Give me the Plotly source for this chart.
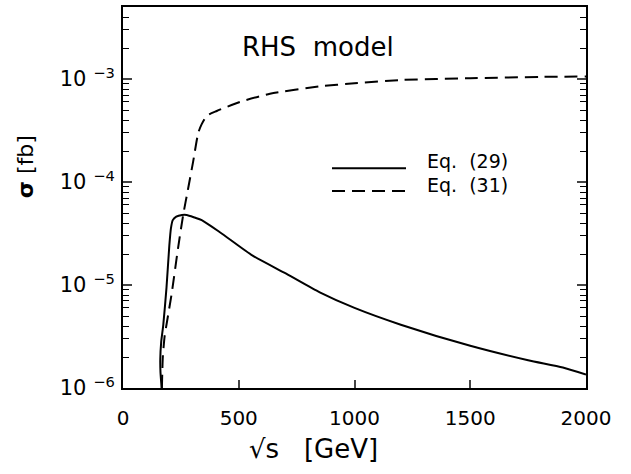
import plotly.graph_objects as go

# ---- data ----
sqrt_s_29 = [167, 162, 161, 165, 174, 188, 200, 207, 215, 230, 255, 275, 310, 340,
             420, 560, 705, 850, 1000, 1200, 1500, 1750, 1900, 2000]
sigma_29 = [1.0e-6, 1.41e-6, 1.9e-6, 2.8e-6, 4.1e-6, 9.5e-6, 2.4e-5, 3.55e-5, 4.27e-5,
            4.62e-5, 4.79e-5, 4.79e-5, 4.52e-5, 4.27e-5, 3.24e-5, 1.93e-5, 1.29e-5,
            8.5e-6, 6.0e-6, 4.12e-6, 2.57e-6, 1.86e-6, 1.58e-6, 1.35e-6]

sqrt_s_31 = [168, 172, 180, 190, 210, 238, 260, 282, 303, 325, 340, 362, 405, 505,
             635, 850, 1000, 1200, 1500, 1800, 2000]
sigma_31 = [1.0e-6, 2.0e-6, 3.2e-6, 4.4e-6, 8.2e-6, 2.3e-5, 4.8e-5, 8.8e-5, 1.58e-4,
            3.0e-4, 3.65e-4, 4.4e-4, 4.9e-4, 6.0e-4, 7.2e-4, 8.5e-4, 9.1e-4, 9.8e-4,
            1.02e-3, 1.05e-3, 1.06e-3]

x_ticks = [0, 500, 1000, 1500, 2000]
y_ticks = [1e-6, 1e-5, 1e-4, 1e-3]
y_ticktext = ["10 <sup>−6</sup>", "10 <sup>−5</sup>", "10 <sup>−4</sup>", "10 <sup>−3</sup>"]
y_minor = [m * 10.0 ** e for e in (-6, -5, -4, -3) for m in range(2, 10)]
legend_labels = ["Eq.  (29)", "Eq.  (31)"]
model_label = "RHS  model"

FONT = "DejaVu Sans"
W, H = 631, 474
L, R, T, B = 123, 45, 5, 86

fig = go.Figure()
fig.add_trace(go.Scatter(x=sqrt_s_29, y=sigma_29, mode="lines",
                         line=dict(color="black", width=2, shape="spline", smoothing=0.6),
                         showlegend=False))
fig.add_trace(go.Scatter(x=sqrt_s_31, y=sigma_31, mode="lines",
                         line=dict(color="black", width=2, dash="13px,7px",
                                   shape="spline", smoothing=0.6),
                         showlegend=False))

fig.update_layout(
    width=W, height=H,
    margin=dict(l=L, r=R, t=T, b=B, pad=0),
    paper_bgcolor="white", plot_bgcolor="white",
    font=dict(family=FONT, color="black", size=20),
    xaxis=dict(range=[0, 2000], tickvals=x_ticks, ticks="inside", ticklen=8,
               tickwidth=1.5, showline=True, linewidth=2, linecolor="black",
               mirror=True, showgrid=False, zeroline=False,
               tickfont=dict(size=20), ticklabelstandoff=11),
    yaxis=dict(type="log", range=[-6, -2.3], tickvals=y_ticks, ticktext=y_ticktext,
               ticks="inside", ticklen=9, tickwidth=1.5, showline=True, linewidth=2,
               linecolor="black", mirror="allticks", showgrid=False, zeroline=False,
               tickfont=dict(size=21), ticklabelstandoff=2,
               minor=dict(tickvals=y_minor, ticks="inside", ticklen=6, tickwidth=1.3,
                          tickcolor="black", showgrid=False)),
)

pw = W - L - R
ph = H - T - B

def px_x(px):
    return (px - L) / pw

def px_y(py):
    return (H - B - py) / ph

# legend (drawn manually to match the reference layout)
fig.add_shape(type="line", xref="paper", yref="paper",
              x0=px_x(332), x1=px_x(406), y0=px_y(167), y1=px_y(167),
              line=dict(color="black", width=2))
fig.add_shape(type="line", xref="paper", yref="paper",
              x0=px_x(332), x1=px_x(406), y0=px_y(190), y1=px_y(190),
              line=dict(color="black", width=2, dash="13px,7px"))
fig.add_annotation(xref="paper", yref="paper", x=px_x(425), y=px_y(160),
                   text=legend_labels[0], showarrow=False, xanchor="left",
                   yanchor="middle", font=dict(size=19))
fig.add_annotation(xref="paper", yref="paper", x=px_x(425), y=px_y(184),
                   text=legend_labels[1], showarrow=False, xanchor="left",
                   yanchor="middle", font=dict(size=19))

fig.add_annotation(xref="paper", yref="paper", x=px_x(240), y=px_y(45),
                   text=model_label, showarrow=False, xanchor="left",
                   yanchor="middle", font=dict(size=26))

# axis titles
fig.add_annotation(xref="paper", yref="paper", x=px_x(313), y=px_y(449),
                   text="√s   [GeV]", showarrow=False, xanchor="center",
                   yanchor="middle", font=dict(size=26))
fig.add_annotation(xref="paper", yref="paper", x=px_x(25), y=px_y(166),
                   text="<b>σ</b> [fb]", showarrow=False, textangle=-90,
                   xanchor="center", yanchor="middle", font=dict(size=22))

fig.write_html("out.html")
